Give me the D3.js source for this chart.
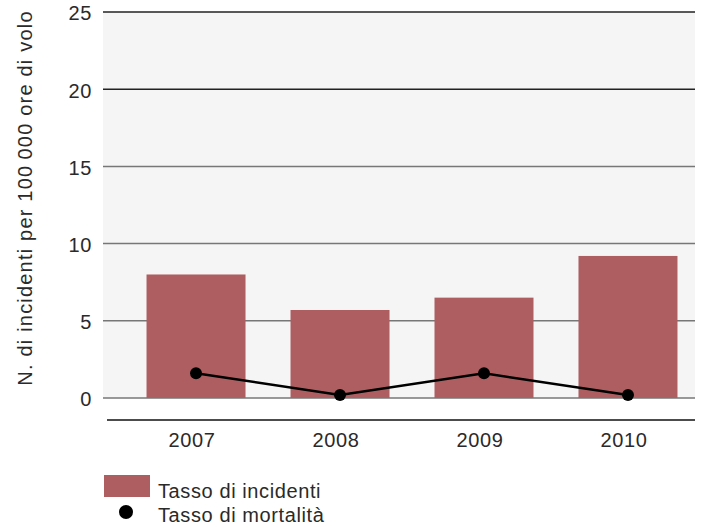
<!DOCTYPE html>
<html><head><meta charset="utf-8">
<script src="https://cdn.jsdelivr.net/npm/d3@7"></script>
<style>
body{margin:0;background:#fff;}
text{font-family:"Liberation Sans",Arial,sans-serif;fill:#2a2a2a;letter-spacing:0.6px;}
</style></head>
<body>
<svg id="c" width="701" height="531"></svg>
<script>
const years = ["2007","2008","2009","2010"];
const incidentRate = [8.0, 5.7, 6.5, 9.2];
const mortalityRate = [1.6, 0.2, 1.6, 0.2];
const yTicks = [0,5,10,15,20,25];
const yTitle = "N. di incidenti per 100\u2009000 ore di volo";
const legendLabels = ["Tasso di incidenti","Tasso di mortalità"];

const svg = d3.select("#c");
const plot = {left:103, right:695, top:12, bottom:398};
const barColor = "#ae5e60";
const fs = 20;

const y = d3.scaleLinear().domain([0,25]).range([plot.bottom, plot.top]);
const x = d3.scaleBand().domain(years).range([plot.left, plot.right])
  .paddingInner(0.3125).paddingOuter(0.212).align(0.713);

svg.append("rect").attr("x",plot.left).attr("y",plot.top)
  .attr("width",plot.right-plot.left).attr("height",plot.bottom-plot.top)
  .attr("fill","#f5f5f5");

svg.append("g").selectAll("line").data(yTicks).join("line")
  .attr("x1",plot.left).attr("x2",plot.right)
  .attr("y1",d=>y(d)).attr("y2",d=>y(d))
  .attr("stroke",d=>d>=20?"#222":"#777").attr("stroke-width",1.5);

svg.append("g").selectAll("text").data(yTicks).join("text")
  .attr("x",92).attr("y",d=>y(d)).attr("dy","0.42em")
  .attr("text-anchor","end").attr("font-size",fs).text(d=>d);

svg.append("text").attr("transform","translate(32,198) rotate(-90)")
  .attr("text-anchor","middle").attr("font-size",fs)
  .style("letter-spacing","1.2px").text(yTitle);

svg.append("g").selectAll("rect").data(years).join("rect")
  .attr("x",d=>x(d)).attr("width",x.bandwidth())
  .attr("y",(d,i)=>y(incidentRate[i]))
  .attr("height",(d,i)=>y(0)-y(incidentRate[i]))
  .attr("fill",barColor);

svg.append("line").attr("x1",107).attr("x2",plot.right)
  .attr("y1",420).attr("y2",420).attr("stroke","#111").attr("stroke-width",1.5);

svg.append("g").selectAll("text").data(years).join("text")
  .attr("x",d=>x(d)+x.bandwidth()/2-4).attr("y",447)
  .attr("text-anchor","middle").attr("font-size",fs).text(d=>d);

const line = d3.line().x((d,i)=>x(years[i])+x.bandwidth()/2).y(d=>y(d));
svg.append("path").datum(mortalityRate).attr("d",line)
  .attr("fill","none").attr("stroke","#000").attr("stroke-width",2.5);
svg.append("g").selectAll("circle").data(mortalityRate).join("circle")
  .attr("cx",(d,i)=>x(years[i])+x.bandwidth()/2).attr("cy",d=>y(d))
  .attr("r",6).attr("fill","#000");

svg.append("rect").attr("x",104).attr("y",475).attr("width",46).attr("height",22).attr("fill",barColor);
svg.append("circle").attr("cx",126).attr("cy",512).attr("r",7).attr("fill","#000");
svg.append("g").selectAll("text").data(legendLabels).join("text")
  .attr("x",158).attr("y",(d,i)=>498+i*24).attr("font-size",fs).text(d=>d);
</script>
</body></html>
